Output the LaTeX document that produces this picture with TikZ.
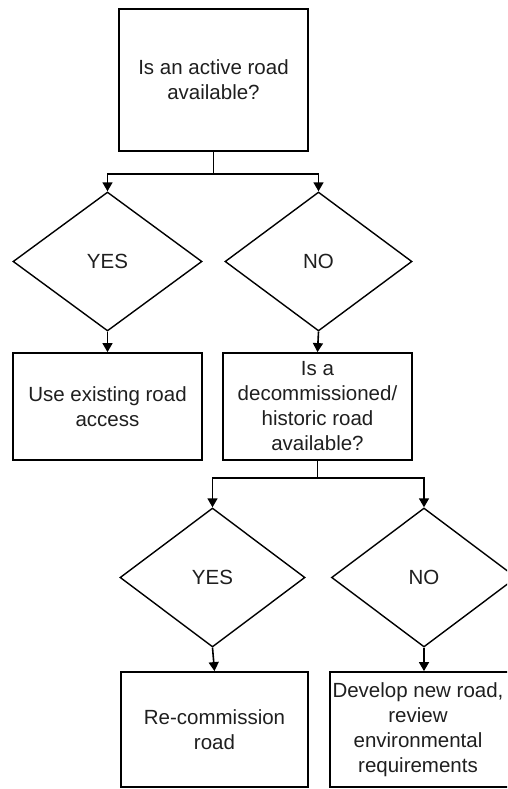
\documentclass[tikz,border=0pt]{standalone}
\usepackage{fontspec}
\setmainfont{Liberation Sans}
\usetikzlibrary{arrows.meta,shapes.geometric}
\begin{document}
\begin{tikzpicture}[x=1pt,y=-1pt,
  every node/.style={font=\fontsize{20.5}{25}\selectfont, text=black!88, align=center, inner sep=0pt},
  stepbox/.style={draw=black, line width=1.8pt, rectangle, minimum width=#1, minimum height=107pt},
  choice/.style={draw=black, line width=1.4pt, diamond, minimum width=#1, minimum height=139pt},
  link/.style={line width=1.6pt, draw=black},
  arrowlink/.style={link, -{Triangle[width=10pt,length=9pt]}}]
\useasboundingbox (0,0) rectangle (507,789);
\clip (0,0) rectangle (507,789);
\fill[white] (0,0) rectangle (507,789);

% first question and its two answers
\node[stepbox=189pt, minimum height=142pt] (q1) at (213.5,80) {Is an active road\\available?};
\node[choice=189pt] (y1) at (107.5,261.5) {YES};
\node[choice=187pt] (n1) at (318.5,261.5) {NO};
\node[stepbox=189pt] (use) at (107.5,406.5) {Use existing road\\access};
\node[stepbox=189pt] (q2) at (317.5,406.5) {Is a\\decommissioned/\\historic road\\available?};

% second question and its two answers
\node[choice=185pt] (y2) at (212.5,577.5) {YES};
\node[choice=185pt] (n2) at (424,577.5) {NO};
\node[stepbox=187pt, minimum height=115pt] (rec) at (214.5,729.5) {Re-commission\\road};
\node[stepbox=188pt, minimum height=115pt] (dev) at (424,729.5) {};
\node (devtext) at ([xshift=-6pt]dev.center) {Develop new road,\\review\\environmental\\requirements};

% connectors
\draw[link] (q1.south) -- ++(0,22) coordinate (j1);
\draw[arrowlink] (j1) -| (y1.north);
\draw[arrowlink] (j1) -| (n1.north);
\draw[arrowlink] (y1.south) -- (use.north);
\draw[arrowlink] (n1.south) -- (q2.north);

\draw[link] (q2.south) -- ++(0,17) coordinate (j2);
\draw[arrowlink] (j2) -| (y2.north);
\draw[arrowlink] (j2) -| (n2.north);
\draw[arrowlink] (y2.south) -- (rec.north);
\draw[arrowlink] (n2.south) -- (dev.north);
\end{tikzpicture}
\end{document}
